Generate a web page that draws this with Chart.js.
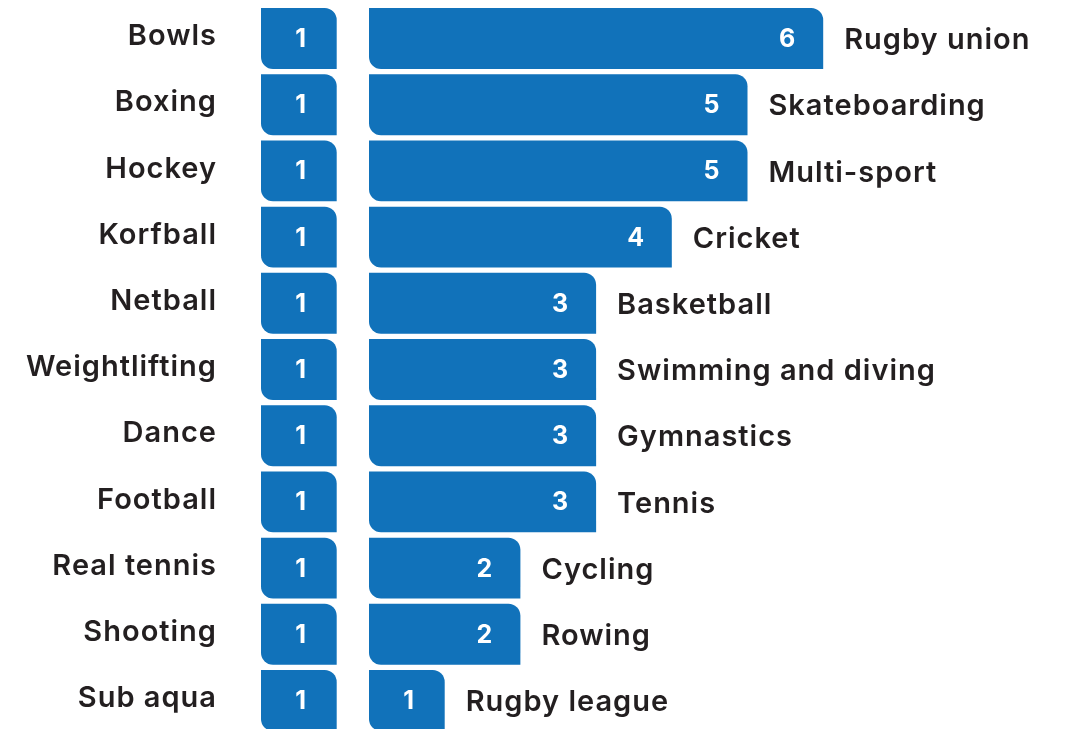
<!DOCTYPE html>
<html>
<head>
<meta charset="utf-8">
<script src="https://cdn.jsdelivr.net/npm/chart.js@4/dist/chart.umd.min.js"></script>
<style>
  html, body { margin: 0; padding: 0; background: #ffffff; overflow: hidden; }
  #wrap { position: relative; width: 1071px; height: 729px; overflow: hidden; }
  canvas { position: absolute; top: 0; }
  #left { left: 0; }
  #right { left: 369px; }
</style>
</head>
<body>
<div id="wrap">
  <canvas id="left" width="337" height="734"></canvas>
  <canvas id="right" width="702" height="734"></canvas>
</div>
<script>
// Sports with a single entry (left column)
const leftSports = ['Bowls', 'Boxing', 'Hockey', 'Korfball', 'Netball', 'Weightlifting',
  'Dance', 'Football', 'Real tennis', 'Shooting', 'Sub aqua'];
const leftCounts = [1, 1, 1, 1, 1, 1, 1, 1, 1, 1, 1];

// Sports ranked by count (right column)
const rightSports = ['Rugby union', 'Skateboarding', 'Multi-sport', 'Cricket', 'Basketball',
  'Swimming and diving', 'Gymnastics', 'Tennis', 'Cycling', 'Rowing', 'Rugby league'];
const rightCounts = [6, 5, 5, 4, 3, 3, 3, 3, 2, 2, 1];

const BLUE = '#1172ba';
const INK = '#231f20';
const FONT = 'Inter, "Open Sans", sans-serif';
const UNIT = 75.7; // pixels per count on both charts

// Writes the count inside each bar and the sport name beside it
// (after the bar on the right chart, before the bar on the left chart)
const barLabels = {
  id: 'barLabels',
  afterDatasetsDraw(chart, args, opts) {
    const ctx = chart.ctx;
    const meta = chart.getDatasetMeta(0);
    const names = chart.data.labels;
    const values = chart.data.datasets[0].data;
    ctx.save();
    ctx.textBaseline = 'middle';
    meta.data.forEach((bar, i) => {
      ctx.letterSpacing = '0px';
      ctx.fillStyle = '#ffffff';
      ctx.font = '700 25px ' + FONT;
      ctx.textAlign = 'center';
      ctx.fillText(String(values[i]), bar.x - 36, bar.y + 1);

      ctx.fillStyle = INK;
      ctx.font = '600 29px ' + FONT;
      ctx.letterSpacing = '1px';
      if (opts.side === 'after') {
        ctx.textAlign = 'left';
        ctx.fillText(names[i], bar.x + 21, bar.y + 2);
      } else {
        ctx.textAlign = 'right';
        ctx.fillText(names[i], bar.base - 44, bar.y - 2);
      }
    });
    ctx.restore();
  }
};

const barStyle = {
  backgroundColor: BLUE,
  borderWidth: 0,
  borderSkipped: false,
  borderRadius: { topLeft: 0, topRight: 12, bottomLeft: 12, bottomRight: 0 },
  barPercentage: 0.92,
  categoryPercentage: 1
};

function makeChart(id, labels, values, side, leftPad, maxCount) {
  return new Chart(document.getElementById(id), {
    type: 'bar',
    data: { labels: labels, datasets: [Object.assign({ data: values }, barStyle)] },
    options: {
      indexAxis: 'y',
      responsive: false,
      animation: false,
      devicePixelRatio: 1,
      layout: { padding: { top: 5.4, bottom: 0.4, left: leftPad, right: 0 } },
      plugins: {
        legend: { display: false },
        tooltip: { enabled: false },
        barLabels: { side: side }
      },
      scales: {
        x: { display: false, min: 0, max: maxCount },
        y: { display: false }
      }
    },
    plugins: [barLabels]
  });
}

makeChart('left', leftSports, leftCounts, 'before', 261, 76 / UNIT);
makeChart('right', rightSports, rightCounts, 'after', 0, 702 / UNIT);
</script>
</body>
</html>
